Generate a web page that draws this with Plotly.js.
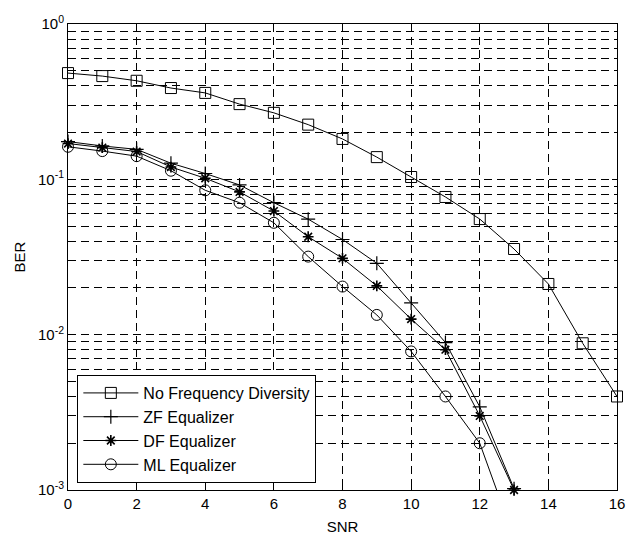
<!DOCTYPE html>
<html>
<head>
<meta charset="utf-8">
<script src="https://cdn.plot.ly/plotly-3.0.1.min.js"></script>
<style>html,body{margin:0;padding:0;background:#fff;}#chart{width:626px;height:538px;}</style>
</head>
<body>
<div id="chart"></div>
<script>
const snr = [0,1,2,3,4,5,6,7,8,9,10,11,12,13,14,15,16];
const berNoDiv = [0.483,0.462,0.431,0.387,0.36,0.305,0.268,0.225,0.182,0.139,0.1035,0.077,0.0555,0.0356,0.0212,0.0088,0.004];
const snrEq = [0,1,2,3,4,5,6,7,8,9,10,11,12,13];
const berZF = [0.175,0.164,0.156,0.127,0.109,0.092,0.0707,0.0554,0.041,0.0288,0.016,0.0089,0.00343,0.00102];
const berDF = [0.17,0.16,0.151,0.12,0.1016,0.083,0.0625,0.0427,0.031,0.0206,0.0126,0.008,0.003,0.001];
const berML = [0.162,0.152,0.141,0.1136,0.085,0.0707,0.0525,0.0318,0.0204,0.0134,0.0078,0.004,0.002,0.00049];
const names = ['No Frequency Diversity','ZF Equalizer','DF Equalizer','ML Equalizer'];
const yMajor = [0.001,0.01,0.1,1];
const yMajorText = ['10<sup>-3</sup>','10<sup>-2</sup>','10<sup>-1</sup>','10<sup>0</sup>'];
const yMinor = [];
[0.001,0.01,0.1].forEach(d => { for (let k = 2; k <= 9; k++) yMinor.push(+(d*k).toPrecision(3)); });

const lineStyle = {color:'#000', width:1};
const traces = [
  {x:snr, y:berNoDiv, name:names[0], legendgroup:'a', mode:'lines+markers', line:lineStyle, cliponaxis:false,
   marker:{symbol:'square-open', size:11, color:'#000', line:{width:1,color:'#000'}}},
  {x:snrEq, y:berZF, name:names[1], legendgroup:'b', mode:'lines+markers', line:lineStyle, cliponaxis:false,
   marker:{symbol:'cross-thin-open', size:10, color:'#000', line:{width:1.2,color:'#000'}}},
  {x:snrEq, y:berDF, name:names[2], legendgroup:'c', mode:'lines+markers', line:lineStyle, cliponaxis:false,
   marker:{symbol:'asterisk-open', size:9, color:'#000', line:{width:1.6,color:'#000'}}},
  {x:snrEq, y:berML, name:names[3], legendgroup:'d', mode:'lines+markers', line:lineStyle, cliponaxis:false,
   marker:{symbol:'circle-open', size:11, color:'#000', line:{width:1,color:'#000'}}}
];
const gridDash = '8px,5px';
const font = {family:'Liberation Sans, Arial, sans-serif', size:15, color:'#000'};
const layout = {
  width:626, height:538,
  margin:{l:68, r:9, t:24, b:48},
  paper_bgcolor:'#fff', plot_bgcolor:'#fff',
  font:font,
  showlegend:true,
  legend:{x:0.017, y:0.015, xanchor:'left', yanchor:'bottom', bgcolor:'#fff', bordercolor:'#000', borderwidth:1,
          font:{family:'Liberation Sans, Arial, sans-serif', size:16, color:'#000'}, traceorder:'grouped', tracegroupgap:0, itemwidth:55},
  xaxis:{range:[0,16], dtick:2, tick0:0, ticks:'inside', ticklen:5, tickcolor:'#000', showline:true, linecolor:'#000', linewidth:1,
         mirror:'allticks', showgrid:true, gridcolor:'#000', gridwidth:1, griddash:gridDash, zeroline:false,
         title:{text:'SNR', font:font, standoff:10}, tickfont:font},
  yaxis:{type:'log', range:[-3,0], tickmode:'array', tickvals:yMajor, ticktext:yMajorText, ticks:'inside', ticklen:5, tickcolor:'#000',
         showline:true, linecolor:'#000', linewidth:1, mirror:'allticks', showgrid:true, gridcolor:'#000', gridwidth:1, griddash:gridDash,
         zeroline:false, tickfont:font, title:{text:'BER', font:font, standoff:8},
         minor:{tickmode:'array', tickvals:yMinor, ticks:'inside', ticklen:3, tickcolor:'#000', showgrid:true, gridcolor:'#000', gridwidth:1, griddash:gridDash}}
};
Plotly.newPlot('chart', traces, layout, {displayModeBar:false, staticPlot:true});
</script>
</body>
</html>
